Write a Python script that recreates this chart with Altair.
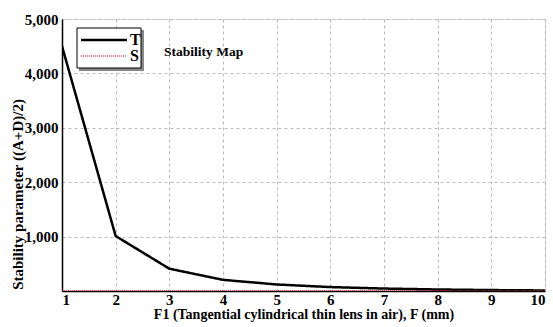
import altair as alt
import pandas as pd

F = [1, 2, 3, 4, 5, 6, 7, 8, 9, 10]
T = [4500, 1010, 410, 205, 120, 72, 45, 28, 17, 10]
S = [2, 2, 2, 2, 2, 2, 2, 2, 2, 2]
series_names = ["T", "S"]
series_colors = ["black", "red"]

rows = []
for f, t, s in zip(F, T, S):
    rows.append({"F": f, "val": t, "series": "T"})
    rows.append({"F": f, "val": s, "series": "S"})
df = pd.DataFrame(rows)

FONT = "Liberation Serif"
common_axis = dict(
    labelFont=FONT, labelFontSize=15, labelFontWeight="bold", labelColor="black",
    titleFont=FONT, titleFontWeight="bold", titleColor="black",
    domainColor="black", domainWidth=1.5, ticks=False,
    gridColor="#bbbbbb", gridDash=[3, 3], gridWidth=1,
)

lines = alt.Chart(df).mark_line(clip=True).encode(
    x=alt.X("F:Q", scale=alt.Scale(domain=[1, 10], nice=False),
            axis=alt.Axis(values=F, title="F1 (Tangential cylindrical thin lens in air), F (mm)",
                          titlePadding=0, labelPadding=1, titleFontSize=14, **common_axis)),
    y=alt.Y("val:Q", scale=alt.Scale(domain=[0, 5000], nice=False),
            axis=alt.Axis(values=[0, 1000, 2000, 3000, 4000, 5000],
                          labelExpr="datum.value == 0 ? '' : format(datum.value, ',')",
                          title="Stability parameter ((A+D)/2)", titleFontSize=15,
                          titleX=-45, titleY=175, titleBaseline="middle",
                          labelPadding=4, **common_axis)),
    color=alt.Color("series:N", scale=alt.Scale(domain=series_names, range=series_colors), legend=None),
    strokeDash=alt.StrokeDash("series:N", scale=alt.Scale(domain=series_names, range=[[1, 0], [1, 1]]),
                              legend=None),
    strokeWidth=alt.StrokeWidth("series:N", scale=alt.Scale(domain=series_names, range=[2.5, 1]),
                                legend=None),
)

one = pd.DataFrame({"a": [0]})

shadow = alt.Chart(one).mark_rect(color="#888888").encode(
    x=alt.value(17), x2=alt.value(82), y=alt.value(11), y2=alt.value(52)
)
box = alt.Chart(one).mark_rect(color="white", stroke="black", strokeWidth=1).encode(
    x=alt.value(15), x2=alt.value(79), y=alt.value(9), y2=alt.value(49)
)
leg_t = alt.Chart(one).mark_rule(color="black", strokeWidth=2.5).encode(
    x=alt.value(19), x2=alt.value(65), y=alt.value(21)
)
leg_s = alt.Chart(one).mark_rule(color="red", strokeWidth=1, strokeDash=[1, 1]).encode(
    x=alt.value(19), x2=alt.value(65), y=alt.value(37)
)
leg_labels = alt.Chart(pd.DataFrame({"t": series_names, "yy": [21, 37]})).mark_text(
    font=FONT, fontSize=16, fontWeight="bold", align="left", baseline="middle", color="black"
).encode(text="t:N", x=alt.value(68), y=alt.Y("yy:Q", scale=None))

title_txt = alt.Chart(pd.DataFrame({"t": ["Stability Map"]})).mark_text(
    font=FONT, fontSize=13.5, fontWeight="bold", align="left", baseline="middle", color="black"
).encode(text="t:N", x=alt.value(102), y=alt.value(33))

chart = alt.layer(lines, shadow, box, leg_t, leg_s, leg_labels, title_txt).properties(
    width=483, height=272,
    autosize=alt.AutoSizeParams(type="none"),
    padding={"left": 62, "top": 19, "right": 8, "bottom": 36},
).resolve_scale(y="independent").configure_view(stroke="black", strokeWidth=1.5).configure(background="white")

chart.save("out.html", embed_options={"renderer": "svg", "actions": False})
